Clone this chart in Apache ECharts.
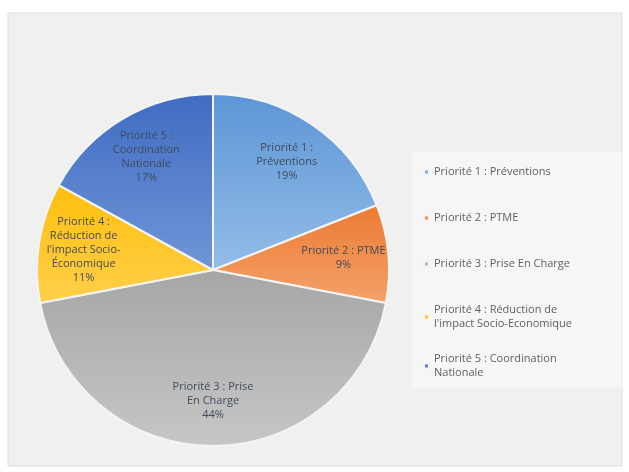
<!DOCTYPE html>
<html>
<head>
<meta charset="utf-8">
<script src="https://cdn.jsdelivr.net/npm/echarts@6/dist/echarts.min.js"></script>
<style>
html, body { margin: 0; padding: 0; background: #ffffff; }
#chart { width: 629px; height: 472px; }
</style>
</head>
<body>
<div id="chart"></div>
<script>
var names = ['Priorité 1 : Préventions', 'Priorité 2 : PTME', 'Priorité 3 : Prise En Charge',
	'Priorité 4 : Réduction de l\'impact Socio-Economique', 'Priorité 5 : Coordination Nationale'];
var values = [19, 9, 44, 11, 17];
var sliceLabels = ['Priorité 1 :\nPréventions', 'Priorité 2 : PTME', 'Priorité 3 : Prise\nEn Charge',
	'Priorité 4 :\nRéduction de\nl\'impact Socio-\nÉconomique', 'Priorité 5 :\nCoordination\nNationale'];
var legendLabels = ['Priorité 1 : Préventions', 'Priorité 2 : PTME', 'Priorité 3 : Prise En Charge',
	'Priorité 4 : Réduction de\nl\'impact Socio-Economique', 'Priorité 5 : Coordination\nNationale'];
var colorsTop = ['#5c95d6', '#ec7a33', '#a6a6a6', '#ffbf0d', '#3f6cc2'];
var colorsBottom = ['#93bde8', '#f4a26a', '#c6c6c6', '#ffcf4a', '#7096d8'];

var pieData = [];
var labelData = [];
for (var i = 0; i < names.length; i++) {
	pieData.push({
		name : names[i],
		value : values[i],
		itemStyle : {
			color : new echarts.graphic.LinearGradient(0, 0, 0, 1, [
				{ offset : 0, color : colorsTop[i] },
				{ offset : 1, color : colorsBottom[i] } ])
		}
	});
	labelData.push({
		name : names[i],
		value : values[i],
		label : { formatter : sliceLabels[i] + '\n{d}%' }
	});
}

var legendFmt = function(name) {
	return legendLabels[names.indexOf(name)];
};

var chart = echarts.init(document.getElementById('chart'));
chart.setOption({
	animation : false,
	graphic : [ {
		type : 'rect',
		z : -10,
		shape : { x : 8, y : 13, width : 614, height : 453 },
		style : { fill : '#f0f0f0', stroke : '#dedede', lineWidth : 1 }
	}, {
		type : 'rect',
		z : -9,
		shape : { x : 412, y : 152, width : 210, height : 236 },
		style : { fill : '#f6f6f6' }
	} ],
	legend : [ {
		orient : 'vertical',
		left : 418,
		top : 160,
		itemGap : 32,
		itemWidth : 5,
		itemHeight : 5,
		icon : 'rect',
		data : [ names[0], names[1], names[2] ],
		formatter : legendFmt,
		textStyle : { fontSize : 11, color : '#5f5f5f', fontFamily : 'Open Sans', lineHeight : 14 }
	}, {
		orient : 'vertical',
		left : 418,
		top : 298,
		itemGap : 21,
		itemWidth : 5,
		itemHeight : 5,
		icon : 'rect',
		data : [ names[3], names[4] ],
		formatter : legendFmt,
		textStyle : { fontSize : 11, color : '#5f5f5f', fontFamily : 'Open Sans', lineHeight : 14 }
	} ],
	series : [ {
		type : 'pie',
		center : [ 213, 270 ],
		radius : [ 0, 176 ],
		startAngle : 90,
		clockwise : true,
		label : { show : false },
		labelLine : { show : false },
		itemStyle : { borderColor : '#f4f4f4', borderWidth : 2 },
		emphasis : { disabled : true },
		data : pieData
	}, {
		type : 'pie',
		center : [ 213, 270 ],
		radius : [ 80, 176 ],
		startAngle : 90,
		clockwise : true,
		silent : true,
		z : 5,
		itemStyle : { color : 'transparent', borderWidth : 0 },
		label : {
			show : true,
			position : 'inside',
			fontSize : 11,
			lineHeight : 14,
			color : '#404a5a',
			fontFamily : 'Open Sans'
		},
		labelLine : { show : false },
		emphasis : { disabled : true },
		data : labelData
	} ]
});
</script>
</body>
</html>
